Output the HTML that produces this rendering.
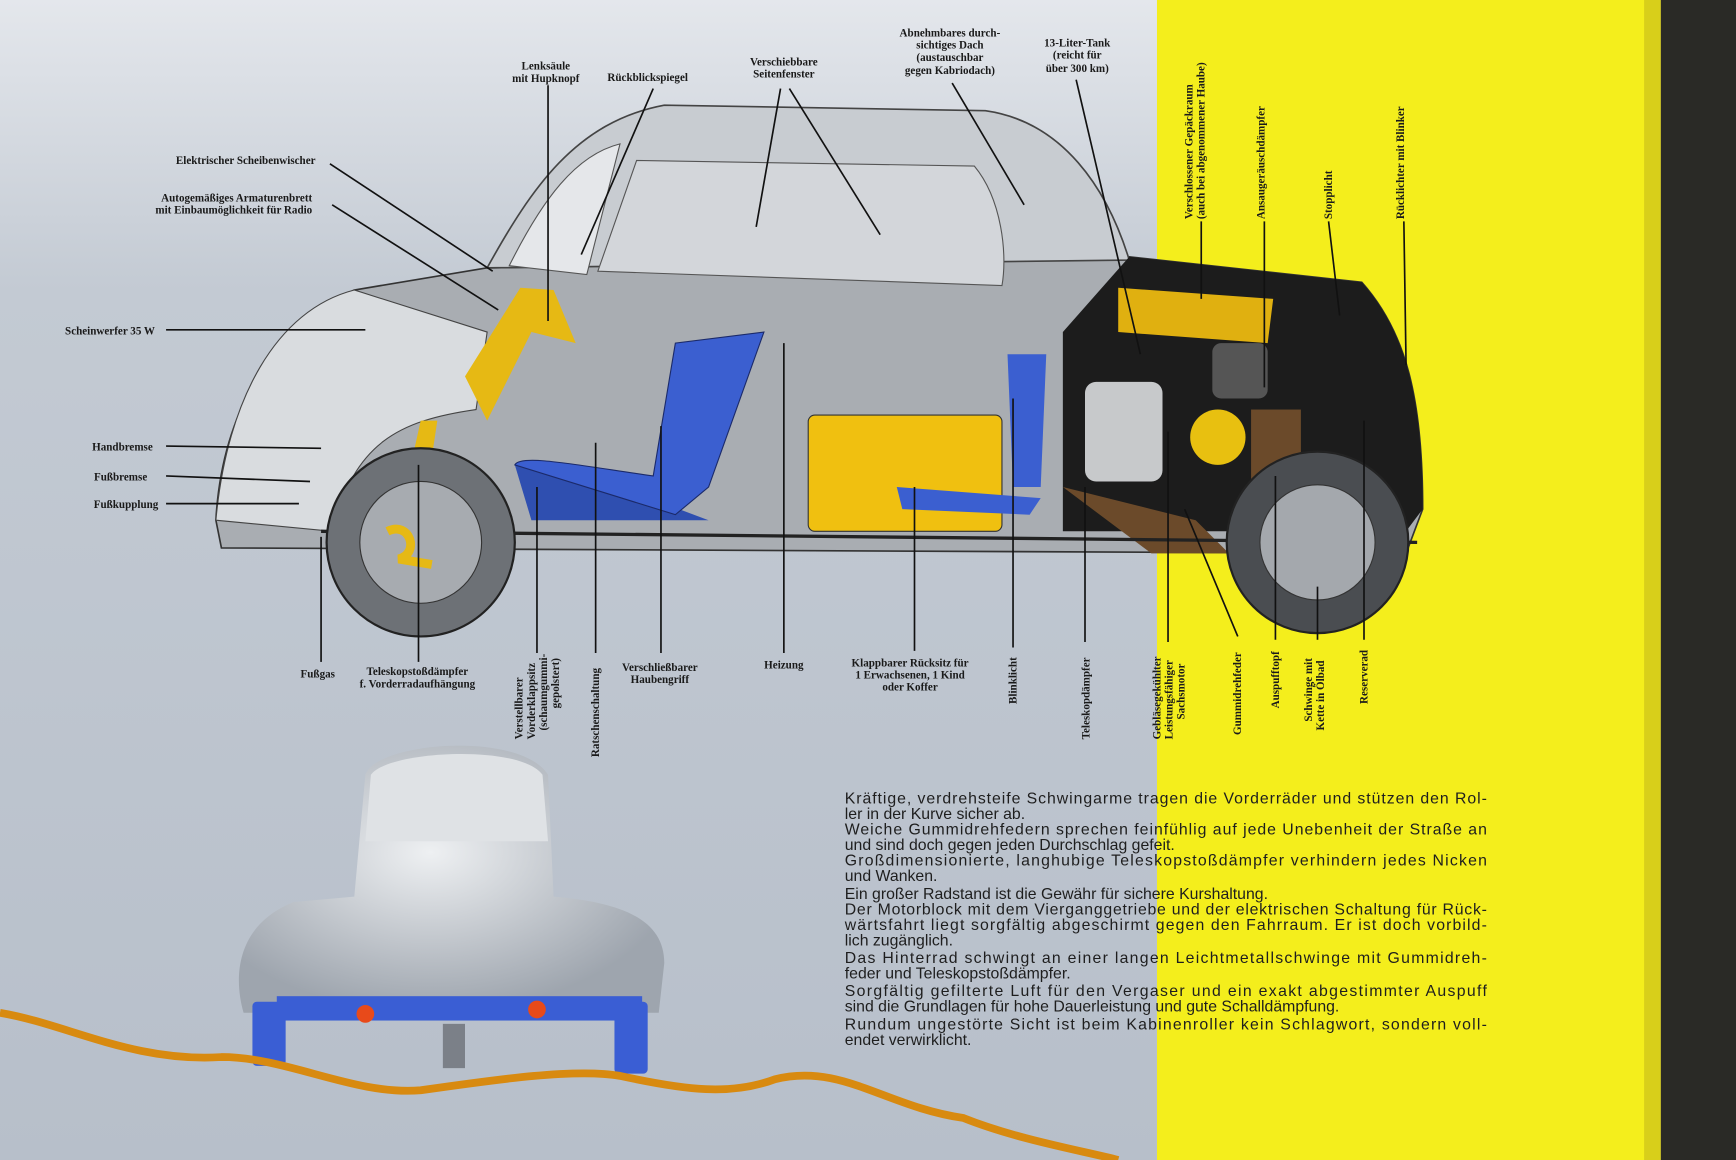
<!DOCTYPE html>
<html><head><meta charset="utf-8"><style>
html,body{margin:0;padding:0;width:1736px;height:1160px;overflow:hidden;background:#b9c1cb}
svg{display:block}
.l{font-family:"Liberation Serif",serif;font-weight:bold;font-size:10px;fill:#1a1a1a}
.p{font-family:"Liberation Sans",sans-serif;font-size:14.3px;fill:#1e1e1e}
</style></head><body>
<svg width="1736" height="1160" viewBox="0 0 1568 1048" preserveAspectRatio="none">
<defs>
<linearGradient id="bg" x1="0" y1="0" x2="0" y2="1"><stop offset="0" stop-color="#e4e7ec"/><stop offset="0.25" stop-color="#c3cad3"/><stop offset="1" stop-color="#b7bfca"/></linearGradient>
<radialGradient id="fr" cx="0.45" cy="0.4" r="0.6"><stop offset="0" stop-color="#eef0f2"/><stop offset="1" stop-color="#9ea5ae"/></radialGradient>
</defs>
<rect x="0" y="0" width="1060" height="1048" fill="url(#bg)"/>
<rect x="1045" y="0" width="455" height="1048" fill="#f4ee1c"/>
<rect x="1500" y="0" width="68" height="1048" fill="#2a2a26"/>
<rect x="1485" y="0" width="15" height="1048" fill="#d8cf1a"/>

<path d="M195,470 C200,380 240,300 320,262 L440,242 L1020,232 L1230,255 C1270,300 1285,360 1285,460 L1270,500 L200,495 Z" fill="#a9adb2" stroke="#333" stroke-width="1.5"/>
<path d="M320,262 C250,280 205,360 195,470 L300,480 C320,400 360,380 430,370 L440,300 Z" fill="#d9dcdf" stroke="#444"/>
<path d="M440,242 C480,170 520,110 600,95 L890,100 C960,110 1000,170 1020,235 Z" fill="#c8ccd1" stroke="#444" stroke-width="1.5"/>
<path d="M460,240 C490,180 520,140 560,130 L530,248 Z" fill="#e5e7ea" stroke="#555"/>
<path d="M540,245 L575,145 L880,150 C905,180 910,230 905,258 Z" fill="#d3d6da" stroke="#555"/>
<path d="M1020,232 L1230,255 C1270,300 1285,360 1285,460 L1270,480 L960,480 L960,300 Z" fill="#1c1c1c"/>
<path d="M1010,260 L1150,270 L1145,310 L1010,300 Z" fill="#e0b010"/>
<rect x="1095" y="310" width="50" height="50" rx="8" fill="#555"/>
<rect x="980" y="345" width="70" height="90" rx="10" fill="#c7c9cb"/>
<circle cx="1100" cy="395" r="25" fill="#e8c010"/>
<rect x="1130" y="370" width="45" height="90" fill="#6b4a2a"/>
<path d="M960,440 L1080,470 L1110,500 L1040,500 Z" fill="#6b4a2a"/>
<rect x="730" y="375" width="175" height="105" rx="6" fill="#f0c010" stroke="#333"/>
<path d="M465,420 L600,455 L640,470 L480,470 Z" fill="#2f4fb0"/>
<path d="M465,420 C470,410 520,420 590,430 L610,310 L690,300 L640,440 L610,465 Z" fill="#3b5fd0" stroke="#1b2a6a"/>
<path d="M810,440 L940,450 L930,465 L815,460 Z" fill="#3b5fd0"/>
<path d="M910,320 L945,320 L940,440 L915,440 Z" fill="#3b5fd0"/>
<path d="M420,340 L470,260 L500,262 L520,310 L480,300 L440,380 Z" fill="#e6b914"/>
<path d="M360,470 L380,380 L395,380 L380,480 Z" fill="#e6b914"/>
<line x1="290" y1="480" x2="1280" y2="490" stroke="#222" stroke-width="3"/>
<circle cx="380" cy="490" r="85" fill="#6d7176" stroke="#222" stroke-width="2"/>
<circle cx="380" cy="490" r="55" fill="#a7abb0" stroke="#333"/>
<circle cx="1190" cy="490" r="82" fill="#4a4d51" stroke="#222" stroke-width="2"/>
<circle cx="1190" cy="490" r="52" fill="#a4a8ad" stroke="#333"/>
<path d="M350,480 C370,470 380,500 360,505 L390,510" stroke="#e6b914" stroke-width="8" fill="none"/>

<g stroke="#111" stroke-width="1.5" fill="none">
<line x1="495" y1="77" x2="495" y2="290"/><line x1="590" y1="80" x2="525" y2="230"/>
<line x1="705" y1="80" x2="683" y2="205"/><line x1="713" y1="80" x2="795" y2="212"/>
<line x1="860" y1="75" x2="925" y2="185"/><line x1="972" y1="72" x2="1030" y2="320"/>
<line x1="298" y1="148" x2="445" y2="245"/><line x1="300" y1="185" x2="450" y2="280"/>
<line x1="150" y1="298" x2="330" y2="298"/>
<line x1="150" y1="403" x2="290" y2="405"/><line x1="150" y1="430" x2="280" y2="435"/><line x1="150" y1="455" x2="270" y2="455"/>
<line x1="290" y1="485" x2="290" y2="598"/><line x1="378" y1="420" x2="378" y2="598"/>
<line x1="485" y1="440" x2="485" y2="590"/><line x1="538" y1="400" x2="538" y2="590"/>
<line x1="597" y1="385" x2="597" y2="590"/><line x1="708" y1="310" x2="708" y2="590"/>
<line x1="826" y1="440" x2="826" y2="588"/><line x1="915" y1="360" x2="915" y2="585"/>
<line x1="980" y1="440" x2="980" y2="580"/><line x1="1055" y1="390" x2="1055" y2="580"/>
<line x1="1070" y1="460" x2="1118" y2="575"/><line x1="1152" y1="430" x2="1152" y2="578"/>
<line x1="1190" y1="530" x2="1190" y2="578"/><line x1="1232" y1="380" x2="1232" y2="578"/>
<line x1="1085" y1="200" x2="1085" y2="270"/><line x1="1142" y1="200" x2="1142" y2="350"/>
<line x1="1200" y1="200" x2="1210" y2="285"/><line x1="1268" y1="200" x2="1270" y2="330"/>
</g>

<g class="l">
<text x="493" y="63" text-anchor="middle">Lenksäule</text><text x="493" y="74" text-anchor="middle">mit Hupknopf</text>
<text x="585" y="73" text-anchor="middle">Rückblickspiegel</text>
<text x="708" y="59" text-anchor="middle">Verschiebbare</text><text x="708" y="70" text-anchor="middle">Seitenfenster</text>
<text x="858" y="33" text-anchor="middle">Abnehmbares durch-</text><text x="858" y="44" text-anchor="middle">sichtiges Dach</text><text x="858" y="55" text-anchor="middle">(austauschbar</text><text x="858" y="67" text-anchor="middle">gegen Kabriodach)</text>
<text x="973" y="42" text-anchor="middle">13-Liter-Tank</text><text x="973" y="53" text-anchor="middle">(reicht für</text><text x="973" y="65" text-anchor="middle">über 300 km)</text>
<text x="285" y="148" text-anchor="end">Elektrischer Scheibenwischer</text>
<text x="282" y="182" text-anchor="end">Autogemäßiges Armaturenbrett</text><text x="282" y="193" text-anchor="end">mit Einbaumöglichkeit für Radio</text>
<text x="140" y="302" text-anchor="end">Scheinwerfer 35 W</text>
<text x="138" y="407" text-anchor="end">Handbremse</text>
<text x="133" y="434" text-anchor="end">Fußbremse</text>
<text x="143" y="459" text-anchor="end">Fußkupplung</text>
<text x="287" y="612" text-anchor="middle">Fußgas</text>
<text x="377" y="610" text-anchor="middle">Teleskopstoßdämpfer</text><text x="377" y="621" text-anchor="middle">f. Vorderradaufhängung</text>
<text x="596" y="606" text-anchor="middle">Verschließbarer</text><text x="596" y="617" text-anchor="middle">Haubengriff</text>
<text x="708" y="604" text-anchor="middle">Heizung</text>
<text x="822" y="602" text-anchor="middle">Klappbarer Rücksitz für</text><text x="822" y="613" text-anchor="middle">1 Erwachsenen, 1 Kind</text><text x="822" y="624" text-anchor="middle">oder Koffer</text>
<text transform="translate(472,668) rotate(-90)">Verstellbarer</text>
<text transform="translate(483,668) rotate(-90)">Vorderklappsitz</text>
<text transform="translate(494,660) rotate(-90)">(schaumgummi-</text>
<text transform="translate(505,640) rotate(-90)">gepolstert)</text>
<text transform="translate(541,684) rotate(-90)">Ratschenschaltung</text>
<text transform="translate(918,636) rotate(-90)">Blinklicht</text>
<text transform="translate(984,668) rotate(-90)">Teleskopdämpfer</text>
<text transform="translate(1048,668) rotate(-90)">Gebläsegekühlter</text>
<text transform="translate(1059,668) rotate(-90)">Leistungsfähiger</text>
<text transform="translate(1070,650) rotate(-90)">Sachsmotor</text>
<text transform="translate(1121,664) rotate(-90)">Gummidrehfeder</text>
<text transform="translate(1155,640) rotate(-90)">Auspufftopf</text>
<text transform="translate(1185,652) rotate(-90)">Schwinge mit</text>
<text transform="translate(1196,660) rotate(-90)">Kette in Ölbad</text>
<text transform="translate(1235,636) rotate(-90)">Reserverad</text>
<text transform="translate(1077,198) rotate(-90)">Verschlossener Gepäckraum</text>
<text transform="translate(1088,198) rotate(-90)">(auch bei abgenommener Haube)</text>
<text transform="translate(1142,198) rotate(-90)">Ansaugeräuschdämpfer</text>
<text transform="translate(1203,198) rotate(-90)">Stopplicht</text>
<text transform="translate(1268,198) rotate(-90)">Rücklichter mit Blinker</text>
</g>

<path d="M330,700 C340,670 470,660 495,700 L500,810 C560,815 600,830 600,870 L595,915 L220,915 C210,880 215,835 265,815 L320,810 Z" fill="url(#fr)"/>
<path d="M335,700 C350,678 470,672 490,700 L495,760 L330,760 Z" fill="#dfe2e5"/>
<rect x="228" y="905" width="30" height="58" rx="4" fill="#3a5ed4"/>
<rect x="555" y="905" width="30" height="65" rx="4" fill="#3a5ed4"/>
<rect x="250" y="900" width="330" height="22" fill="#3a5ed4"/>
<circle cx="330" cy="916" r="8" fill="#e84a1a"/><circle cx="485" cy="912" r="8" fill="#e84a1a"/>
<rect x="400" y="925" width="20" height="40" fill="#7b8088"/>
<path d="M0,915 C60,925 120,960 200,955 C260,955 320,990 380,985 C450,975 520,965 560,972 C620,985 660,990 700,975 C760,960 800,1000 870,1010 C920,1030 980,1040 1010,1048" stroke="#d88a10" stroke-width="7" fill="none"/>

<g class="p">
<text x="763" y="726" textLength="580" lengthAdjust="spacing">Kräftige, verdrehsteife Schwingarme tragen die Vorderräder und stützen den Rol-</text>
<text x="763" y="740">ler in der Kurve sicher ab.</text>
<text x="763" y="754" textLength="580" lengthAdjust="spacing">Weiche Gummidrehfedern sprechen feinfühlig auf jede Unebenheit der Straße an</text>
<text x="763" y="768">und sind doch gegen jeden Durchschlag gefeit.</text>
<text x="763" y="782" textLength="580" lengthAdjust="spacing">Großdimensionierte, langhubige Teleskopstoßdämpfer verhindern jedes Nicken</text>
<text x="763" y="796">und Wanken.</text>
<text x="763" y="812">Ein großer Radstand ist die Gewähr für sichere Kurshaltung.</text>
<text x="763" y="826" textLength="580" lengthAdjust="spacing">Der Motorblock mit dem Vierganggetriebe und der elektrischen Schaltung für Rück-</text>
<text x="763" y="840" textLength="580" lengthAdjust="spacing">wärtsfahrt liegt sorgfältig abgeschirmt gegen den Fahrraum. Er ist doch vorbild-</text>
<text x="763" y="854">lich zugänglich.</text>
<text x="763" y="870" textLength="580" lengthAdjust="spacing">Das Hinterrad schwingt an einer langen Leichtmetallschwinge mit Gummidreh-</text>
<text x="763" y="884">feder und Teleskopstoßdämpfer.</text>
<text x="763" y="900" textLength="580" lengthAdjust="spacing">Sorgfältig gefilterte Luft für den Vergaser und ein exakt abgestimmter Auspuff</text>
<text x="763" y="914">sind die Grundlagen für hohe Dauerleistung und gute Schalldämpfung.</text>
<text x="763" y="930" textLength="580" lengthAdjust="spacing">Rundum ungestörte Sicht ist beim Kabinenroller kein Schlagwort, sondern voll-</text>
<text x="763" y="944">endet verwirklicht.</text>
</g>
</svg>
</body></html>
